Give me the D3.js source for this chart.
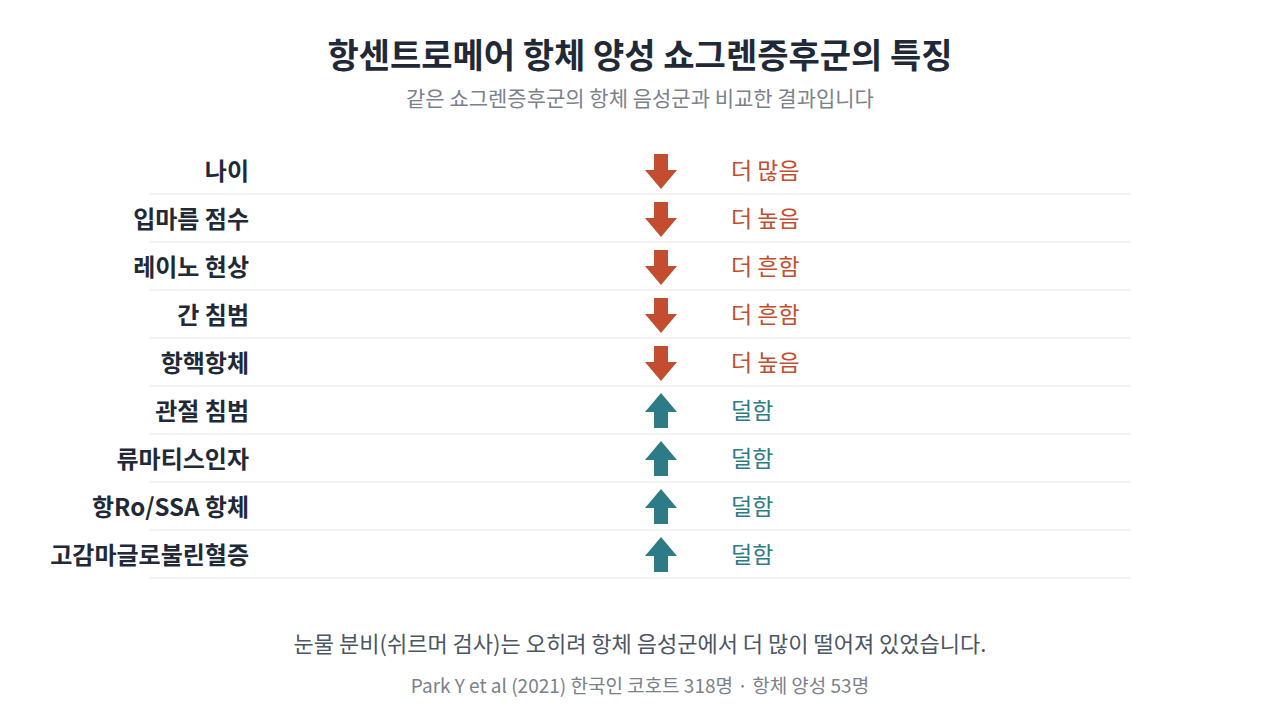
<!DOCTYPE html><html><head><meta charset="utf-8"><script src="https://cdn.jsdelivr.net/npm/d3@7"></script>
<style>body{margin:0;background:#fff}text{font-family:"Noto Sans CJK KR","Noto Sans",sans-serif}</style></head><body>
<svg id="c" width="1280" height="720"></svg>
<script>
const categories=["나이","입마름 점수","레이노 현상","간 침범","항핵항체","관절 침범","류마티스인자","항Ro/SSA 항체","고감마글로불린혈증"];
const directions=[1,1,1,1,1,-1,-1,-1,-1];
const effectLabels=["더 많음","더 높음","더 흔함","더 흔함","더 높음","덜함","덜함","덜함","덜함"];
const svg=d3.select("#c");
const up="#c44d2f",down="#2c7b87";
svg.append("text").attr("x",640).attr("y",68).attr("text-anchor","middle").attr("font-size",34).attr("font-weight",700).attr("fill","#1f2937").text("항센트로메어 항체 양성 쇼그렌증후군의 특징");
svg.append("text").attr("x",640).attr("y",106).attr("text-anchor","middle").attr("font-size",21).attr("fill","#7b818a").text("같은 쇼그렌증후군의 항체 음성군과 비교한 결과입니다");
const y=d3.scaleBand().domain(categories).range([147,579]);
const g=svg.selectAll("g.row").data(categories).join("g").attr("transform",d=>`translate(0,${y(d)+y.bandwidth()/2})`);
g.append("line").attr("x1",150).attr("x2",1130).attr("y1",23).attr("y2",23).attr("stroke","#e3e5e8");
g.append("text").attr("x",249).attr("y",9).attr("text-anchor","end").attr("font-size",24).attr("font-weight",700).attr("fill","#1f2937").text(d=>d);
g.append("path").attr("transform",(d,i)=>`translate(661,0) scale(1,${-directions[i]})`)
 .attr("d","M0,-18 L16,1 L7,1 L7,17 L-7,17 L-7,1 L-16,1 Z")
 .attr("fill",(d,i)=>directions[i]>0?up:down);
g.append("text").attr("x",731).attr("y",8).attr("font-size",23).attr("fill",(d,i)=>directions[i]>0?up:down).text((d,i)=>effectLabels[i]);
svg.append("text").attr("x",640).attr("y",652).attr("text-anchor","middle").attr("font-size",22).attr("fill","#4b5563").text("눈물 분비(쉬르머 검사)는 오히려 항체 음성군에서 더 많이 떨어져 있었습니다.");
svg.append("text").attr("x",640).attr("y",693).attr("text-anchor","middle").attr("font-size",19).attr("fill","#7b818a").text("Park Y et al (2021) 한국인 코호트 318명 · 항체 양성 53명");
</script></body></html>
